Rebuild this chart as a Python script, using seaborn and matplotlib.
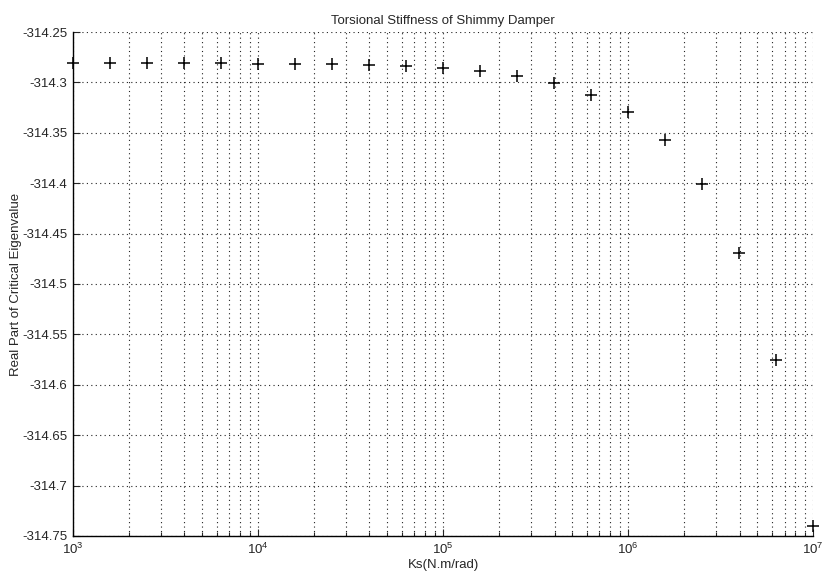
import numpy as np
import pandas as pd
import matplotlib
matplotlib.use("Agg")
import matplotlib.pyplot as plt
import matplotlib.ticker as mticker
import seaborn as sns

# Ks values (log spaced, 5 per decade) and real part of critical eigenvalue
ks = [1e3, 1.585e3, 2.512e3, 3.981e3, 6.310e3,
      1e4, 1.585e4, 2.512e4, 3.981e4, 6.310e4,
      1e5, 1.585e5, 2.512e5, 3.981e5, 6.310e5,
      1e6, 1.585e6, 2.512e6, 3.981e6, 6.310e6, 1e7]
eig_real = [-314.281, -314.281, -314.281, -314.281, -314.281,
            -314.282, -314.282, -314.282, -314.283, -314.284,
            -314.286, -314.289, -314.294, -314.301, -314.312,
            -314.329, -314.357, -314.401, -314.469, -314.575, -314.740]

df = pd.DataFrame({"ks": ks, "eig": eig_real})

sns.set_style("white")
plt.rcParams["font.family"] = ["Liberation Sans", "DejaVu Sans"]

fig = plt.figure(figsize=(8.27, 5.72), dpi=100)
ax = fig.add_axes([0.0883, 0.063, 0.895, 0.881])

sns.scatterplot(data=df, x="ks", y="eig", marker="+", color="black",
                s=70, linewidth=1.1, ax=ax, zorder=3, clip_on=False)

ax.set_xscale("log")
ax.set_xlim(1e3, 1e7)
ax.set_ylim(-314.75, -314.25)
ax.set_yticks(np.arange(-314.75, -314.249, 0.05))
ax.yaxis.set_major_formatter(mticker.FuncFormatter(lambda v, p: "%g" % round(v, 2)))
ax.xaxis.set_minor_locator(mticker.LogLocator(base=10, subs=np.arange(2, 10)))

ax.grid(True, which="major", axis="both", linestyle=(0, (1, 3)), color="#222222", linewidth=0.8)
ax.grid(True, which="minor", axis="x", linestyle=(0, (1, 3)), color="#222222", linewidth=0.8)

for s in ["top", "right"]:
    ax.spines[s].set_visible(False)
for s in ["left", "bottom"]:
    ax.spines[s].set_color("black")
    ax.spines[s].set_linewidth(1.0)

ax.tick_params(axis="both", which="major", direction="in", length=5, width=0.8,
               labelsize=9.5, bottom=True, left=True, pad=4)
ax.tick_params(axis="x", which="minor", direction="in", length=3, width=0.8, bottom=True)

ax.set_title("Torsional Stiffness of Shimmy Damper", fontsize=9.5, pad=6)
ax.set_xlabel("Ks(N.m/rad)", fontsize=9.5, labelpad=2)
ax.set_ylabel("Real Part of Critical Eigenvalue", fontsize=9.5, labelpad=0)

fig.savefig("out.png", dpi=100)
